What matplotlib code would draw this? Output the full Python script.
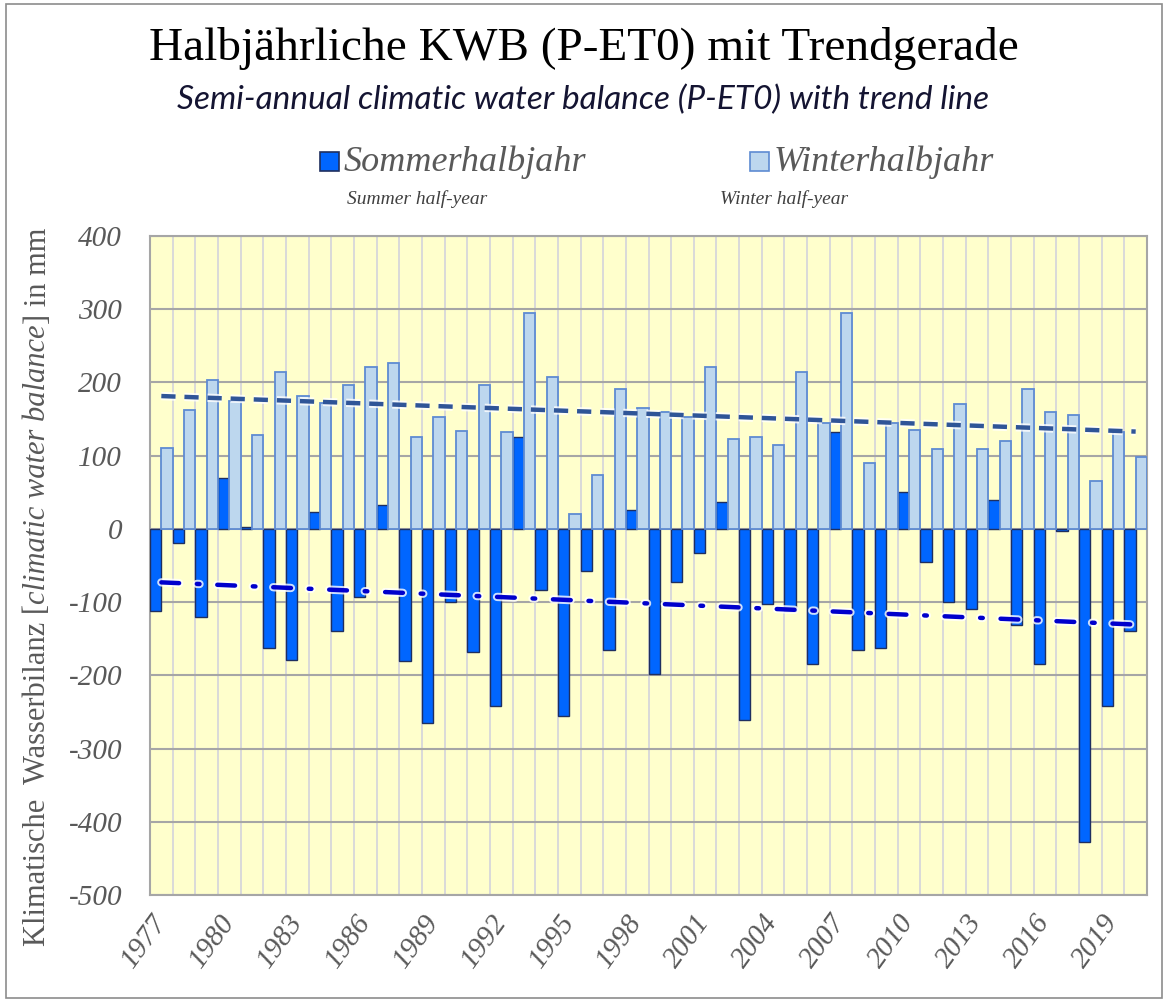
import numpy as np
import matplotlib
matplotlib.use("Agg")
import matplotlib.pyplot as plt
import matplotlib.patheffects as pe
from matplotlib.patches import Rectangle

# half-year climatic water balance (mm), 1977-2020
years = list(range(1977, 2021))
summer = [-112, -19, -121, 69, 2, -163, -179, 23, -140, -93,
          32, -180, -265, -100, -168, -242, 126, -84, -256, -58,
          -165, 26, -198, -72, -33, 37, -261, -102, -112, -185,
          132, -166, -163, 50, -45, -100, -109, 39, -131, -184,
          -3, -427, -242, -140]
winter = [110, 163, 203, 175, 128, 214, 181, 172, 197, 221,
          226, 126, 153, 134, 197, 132, 295, 207, 21, 74,
          191, 165, 159, 153, 221, 123, 126, 114, 214, 145,
          295, 90, 145, 135, 109, 170, 109, 120, 191, 160,
          155, 65, 133, 98]
yticks = [400, 300, 200, 100, 0, -100, -200, -300, -400, -500]

W, H = 1167, 1002
fig = plt.figure(figsize=(W / 100, H / 100), dpi=100)
fig.patch.set_facecolor("white")
ax = fig.add_axes([150 / W, 1 - 895 / H, 997 / W, 659 / H])
ax.set_facecolor("#FFFFCC")

serif = "Liberation Serif"
grey = "#595959"
x = np.arange(len(years))

ax.bar(x - 0.25, summer, width=0.5, color="#0066FF", edgecolor="#1F2F5F",
       linewidth=1.0, zorder=3)
ax.bar(x + 0.25, winter, width=0.5, color="#BDD7EE", edgecolor="#5E8BD2",
       linewidth=1.3, zorder=3)

# linear trends (like the spreadsheet trendline)
glow = [pe.Stroke(linewidth=6, foreground="white", alpha=0.8), pe.Normal()]
kw = np.polyfit(x, winter, 1)
ks = np.polyfit(x, summer, 1)
ax.plot(x, np.polyval(kw, x), color="#2F5597", lw=3.2, dashes=(3.2, 2.0),
        zorder=4, path_effects=glow)
ax.plot(x, np.polyval(ks, x), color="#0000CC", lw=3.2, dashes=(4, 4, 0.6, 4),
        dash_capstyle="round", zorder=4, path_effects=glow)

ax.set_xlim(-0.5, len(years) - 0.5)
ax.set_ylim(-500, 400)
ax.set_yticks(yticks)
ax.set_yticklabels([str(v) for v in yticks], fontfamily=serif, style="italic",
                   fontsize=21, color=grey)
ax.set_xticks(x[::3])
ax.set_xticklabels([str(y) for y in years[::3]], fontfamily=serif,
                   style="italic", fontsize=21, color=grey, rotation=54,
                   ha="right", va="center", rotation_mode="anchor")
ax.set_xticks(np.arange(-0.5, len(years), 1), minor=True)
ax.tick_params(axis="both", which="both", length=0)
ax.tick_params(axis="x", pad=16)
ax.tick_params(axis="y", pad=20)
ax.set_axisbelow(True)
ax.grid(which="minor", axis="x", color="#D9D9D9", lw=1.4)
ax.grid(which="major", axis="y", color="#A6A6A6", lw=1.5)
for s in ax.spines.values():
    s.set_color("#A6A6A6")
    s.set_linewidth(1.5)

# titles
fig.text(0.5, 1 - 48 / H, "Halbjährliche KWB (P-ET0) mit Trendgerade",
         fontfamily=serif, fontsize=34, ha="center", va="center", color="black")
fig.text(0.5, 1 - 100 / H, "Semi-annual climatic water balance (P-ET0) with trend line",
         fontfamily="Lato", style="italic", fontsize=24, ha="center",
         va="center", color="#141432")

# legend
for mx, lab, sub, sx, fc, ec in [
        (320, "Sommerhalbjahr", "Summer half-year", 347, "#0066FF", "#1F2F5F"),
        (750, "Winterhalbjahr", "Winter half-year", 720, "#BDD7EE", "#5E8BD2")]:
    fig.add_artist(Rectangle((mx / W, 1 - 171 / H), 19 / W, 19 / H,
                             transform=fig.transFigure, facecolor=fc,
                             edgecolor=ec, lw=1.2))
    fig.text((mx + 24) / W, 1 - 162 / H, lab, fontfamily=serif, style="italic",
             fontsize=26, color=grey, ha="left", va="center")
    fig.text(sx / W, 1 - 199 / H, sub, fontfamily=serif, style="italic",
             fontsize=14, color="#404040", ha="left", va="center")

# y label with italic middle part
t1 = fig.text(38 / W, 1 - 946 / H, "Klimatische  Wasserbilanz [", rotation=90,
              fontfamily=serif, fontsize=22, color=grey, ha="center", va="bottom")
t2 = fig.text(0, 0, "climatic water balance", rotation=90, fontfamily=serif,
              style="italic", fontsize=22, color=grey, ha="center", va="bottom")
t3 = fig.text(0, 0, "] in mm", rotation=90, fontfamily=serif, fontsize=22,
              color=grey, ha="center", va="bottom")
fig.canvas.draw()
r = fig.canvas.get_renderer()
b1 = t1.get_window_extent(r)
t2.set_position((38 / W, b1.y1 / H))
fig.canvas.draw()
b2 = t2.get_window_extent(r)
t3.set_position((38 / W, b2.y1 / H))

# outer frame
fig.add_artist(Rectangle((6 / W, 4 / H), 1156 / W, 994 / H,
                         transform=fig.transFigure, fill=False,
                         edgecolor="#8C8C8C", lw=1.2))

fig.savefig("out.png", dpi=100)
